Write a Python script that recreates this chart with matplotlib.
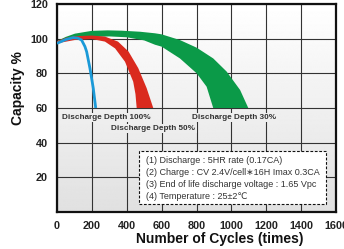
import numpy as np
import matplotlib
matplotlib.use("Agg")
import matplotlib.pyplot as plt
from matplotlib.patches import Rectangle

# ---- data ----
blue_x = [0, 50, 93, 120, 141, 160, 170, 189, 208, 222]
blue_y = [97.3, 99.5, 100.6, 100.3, 99.2, 95.5, 92.5, 82.9, 71.4, 60]

red_up_x = [0, 50, 100, 200, 275, 350, 410, 466, 514, 552]
red_up_y = [98.6, 100.5, 101.4, 101.8, 101.2, 98.3, 92.6, 83, 71.5, 60]
red_lo_x = [0, 100, 200, 275, 333, 390, 437, 450, 457]
red_lo_y = [97.3, 99.2, 99.8, 98.3, 94.4, 86.7, 75.2, 68, 60]

green_up_x = [0, 50, 103, 199, 290, 371, 476, 562, 600, 705, 801, 896, 973, 1050, 1097]
green_up_y = [98.6, 101, 102.9, 104.5, 104.8, 104.6, 104, 103.1, 102.5, 99.2, 94.8, 88.6, 81, 70.4, 60]
green_lo_x = [0, 100, 200, 300, 400, 500, 562, 600, 705, 801, 858, 896]
green_lo_y = [97.5, 100, 101, 101.3, 100.8, 99, 96.5, 95.4, 88.6, 80, 72.3, 60]

x_ticks = [0, 200, 400, 600, 800, 1000, 1200, 1400, 1600]
y_ticks = [20, 40, 60, 80, 100, 120]

labels = ["Discharge Depth 100%", "Discharge Depth 50%", "Discharge Depth 30%"]
label_x = [30, 312, 775]
label_y = [54.6, 48.2, 54.6]

notes = ["(1) Discharge : 5HR rate (0.17CA)",
         "(2) Charge : CV 2.4V/cell\u221716H Imax 0.3CA",
         "(3) End of life discharge voltage : 1.65 Vpc",
         "(4) Temperature : 25\u00b12\u2103"]
note_y = [30.0, 22.9, 16.0, 8.8]

FAM = ['Liberation Sans', 'DejaVu Sans']
plt.rcParams['font.family'] = FAM

fig = plt.figure(figsize=(3.44, 2.49), dpi=100)
ax = fig.add_axes([57/344, 1-212/249, 279/344, 208/249])

# gradient background
grad = np.linspace(0.88, 1.0, 256).reshape(-1, 1)
ax.imshow(grad, extent=[0, 1600, 0, 120], origin='lower', cmap='gray',
          vmin=0, vmax=1, aspect='auto', zorder=0, interpolation='bilinear')

ax.set_xlim(0, 1600)
ax.set_ylim(0, 120)
ax.set_axisbelow(True)
ax.grid(True, color='#333333', lw=0.8)
ax.set_xticks(x_ticks)
ax.set_yticks(y_ticks)
ax.set_xticklabels([str(v) for v in x_ticks], fontweight='bold', fontsize=7.8, color='#222222')
ax.set_yticklabels([str(v) for v in y_ticks], fontweight='bold', fontsize=7.8, color='#222222')
ax.tick_params(length=0, pad=6.5)
for s in ax.spines.values():
    s.set_linewidth(1.6)
    s.set_color('#111111')

green = '#0b9a48'
red = '#da2a1e'
blue = '#1b9ad8'

ax.fill(green_up_x + green_lo_x[::-1], green_up_y + green_lo_y[::-1], color=green, lw=0, zorder=3)
ax.fill(red_up_x + red_lo_x[::-1], red_up_y + red_lo_y[::-1], color=red, lw=0, zorder=4)
ax.plot(blue_x, blue_y, color=blue, lw=2.0, zorder=5, solid_capstyle='butt')

for t, x, y in zip(labels, label_x, label_y):
    shade = 0.88 + 0.12 * y / 120
    ax.text(x, y, t, fontsize=5.9, fontweight='bold', color='#333333', va='center', ha='left',
            zorder=6, bbox=dict(facecolor=(shade, shade, shade), edgecolor='none', pad=0.8))

ax.add_patch(Rectangle((469, 4.8), 1073, 30.3, facecolor='white', edgecolor='#111111',
                       lw=0.8, ls=(0, (2.5, 1.5)), zorder=6))
for t, y in zip(notes, note_y):
    ax.text(508, y, t, fontsize=6.5, color='#333333', va='center', ha='left', zorder=7, family=FAM)

fig.text(220/344, 1-239/249, "Number of Cycles (times)", fontsize=10, fontweight='bold',
         ha='center', va='center', color='#111111')
fig.text(18/344, 1-88/249, "Capacity %", fontsize=10, fontweight='bold', rotation=90,
         ha='center', va='center', color='#111111')

fig.savefig('out.png', dpi=100)
